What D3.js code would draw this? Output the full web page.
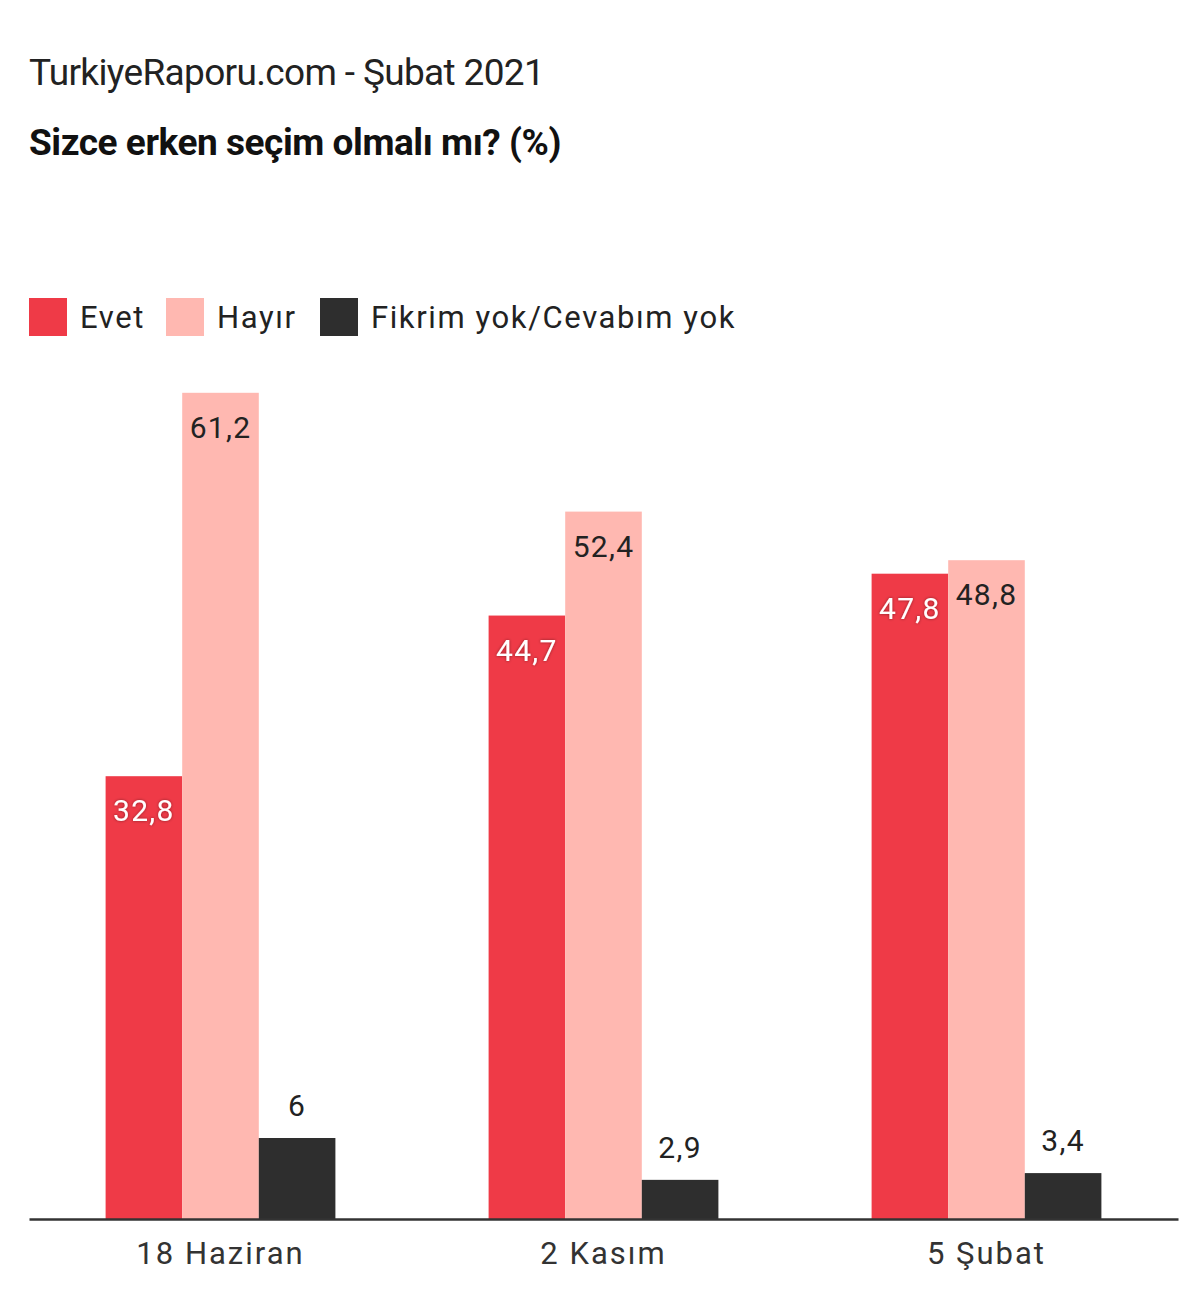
<!DOCTYPE html>
<html>
<head>
<meta charset="utf-8">
<script src="https://cdn.jsdelivr.net/npm/d3@7"></script>
<style>
  body { margin: 0; background: #fff; }
  svg text { font-family: Roboto, "Noto Sans", sans-serif; }
</style>
</head>
<body>
<div id="chart"></div>
<script>
// chart data
const dates = ["18 Haziran", "2 Kasım", "5 Şubat"];
const seriesNames = ["Evet", "Hayır", "Fikrim yok/Cevabım yok"];
const evet = [32.8, 44.7, 47.8];
const hayir = [61.2, 52.4, 48.8];
const fikrimYok = [6, 2.9, 3.4];
const colors = ["#ef3a47", "#ffb8b1", "#2e2e2e"];

const width = 1200, height = 1316;
const margin = { left: 29, right: 22, top: 274, bottom: 97 };

const svg = d3.select("#chart").append("svg")
    .attr("width", width)
    .attr("height", height);

// drop shadow for labels inside the bars
const defs = svg.append("defs");
const f = defs.append("filter").attr("id", "shadow")
    .attr("x", "-20%").attr("y", "-20%").attr("width", "140%").attr("height", "140%");
f.append("feDropShadow").attr("dx", 0).attr("dy", 0).attr("stdDeviation", 1.5)
    .attr("flood-color", "#000").attr("flood-opacity", 0.45);

// titles
svg.append("text")
    .attr("x", 29).attr("y", 85)
    .attr("font-size", 37).attr("fill", "#222")
    .style("letter-spacing", "-0.65px")
    .text("TurkiyeRaporu.com - Şubat 2021");
svg.append("text")
    .attr("x", 29).attr("y", 155)
    .attr("font-size", 37).attr("font-weight", "bold").attr("fill", "#111")
    .style("letter-spacing", "-0.45px")
    .text("Sizce erken seçim olmalı mı? (%)");

// legend
const legendX = [29, 166, 320];
const legend = svg.append("g");
seriesNames.forEach((name, i) => {
    legend.append("rect")
        .attr("x", legendX[i]).attr("y", 298)
        .attr("width", 38).attr("height", 38)
        .attr("fill", colors[i]);
    legend.append("text")
        .attr("x", legendX[i] + 51).attr("y", 328)
        .attr("font-size", 31).attr("fill", "#222")
        .style("letter-spacing", "1.6px")
        .text(name);
});

// scales
const x0 = d3.scaleBand()
    .domain(dates)
    .range([margin.left, width - margin.right])
    .paddingInner(0.4)
    .paddingOuter(0.2);

const x1 = d3.scaleBand()
    .domain(seriesNames)
    .range([0, x0.bandwidth()]);

const y = d3.scaleLinear()
    .domain([0, 70])
    .range([height - margin.bottom, margin.top]);

const data = dates.map((d, i) => ({
    date: d,
    values: [evet[i], hayir[i], fikrimYok[i]]
}));

const fmt = v => String(v).replace(".", ",");

const groups = svg.selectAll(".group")
    .data(data)
    .enter().append("g")
    .attr("class", "group")
    .attr("transform", d => `translate(${x0(d.date)},0)`);

groups.selectAll("rect")
    .data(d => d.values.map((v, i) => ({ key: seriesNames[i], value: v, i: i })))
    .enter().append("rect")
    .attr("x", d => x1(d.key))
    .attr("y", d => y(d.value))
    .attr("width", x1.bandwidth())
    .attr("height", d => y(0) - y(d.value))
    .attr("fill", d => colors[d.i]);

groups.selectAll(".lbl")
    .data(d => d.values.map((v, i) => ({ key: seriesNames[i], value: v, i: i })))
    .enter().append("text")
    .attr("class", "lbl")
    .attr("x", d => x1(d.key) + x1.bandwidth() / 2)
    .attr("y", d => d.i === 2 ? y(d.value) - 22 : y(d.value) + 45)
    .attr("text-anchor", "middle")
    .attr("font-size", 30)
    .attr("fill", d => d.i === 0 ? "#fff" : "#222")
    .attr("filter", d => d.i === 0 ? "url(#shadow)" : null)
    .style("letter-spacing", "1.3px")
    .text(d => fmt(d.value));

// x axis
const xAxis = svg.append("g")
    .attr("transform", `translate(0,${y(0)})`)
    .call(d3.axisBottom(x0).tickSize(0).tickPadding(23));
xAxis.select(".domain")
    .attr("stroke", "#333").attr("stroke-width", 2.5);
xAxis.selectAll("text")
    .attr("font-size", 31)
    .attr("fill", "#333")
    .attr("font-family", "Roboto, sans-serif")
    .attr("dy", "0.71em")
    .style("letter-spacing", "2px");
</script>
</body>
</html>
